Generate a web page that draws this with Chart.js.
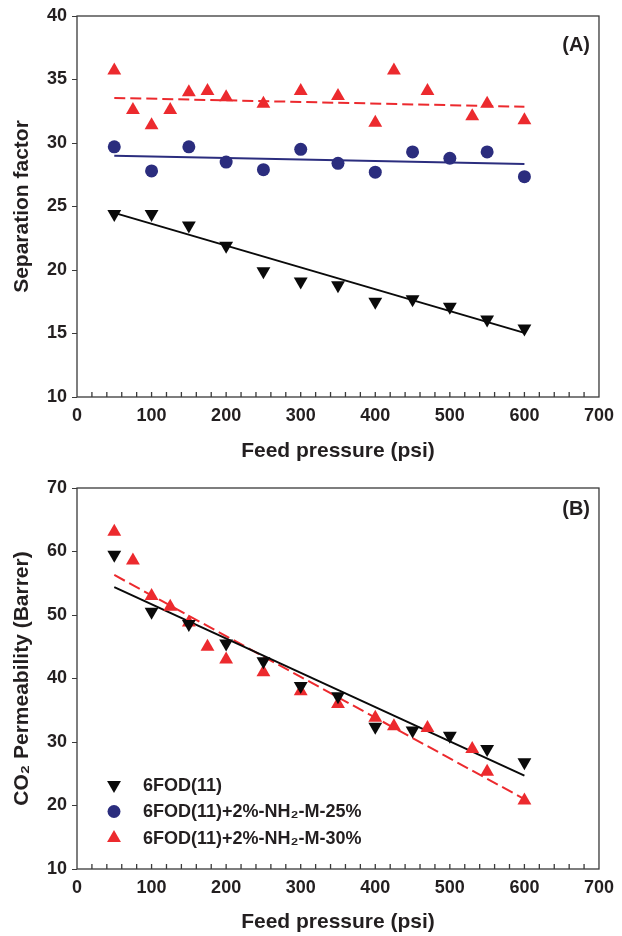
<!DOCTYPE html>
<html>
<head>
<meta charset="utf-8">
<script src="https://cdn.jsdelivr.net/npm/chart.js@4/dist/chart.umd.min.js"></script>
<style>
  html, body { margin: 0; padding: 0; background: #fff; }
  .box { width: 622px; height: 468px; }
</style>
</head>
<body>
<div class="box"><canvas id="chartA" width="622" height="468"></canvas></div>
<div class="box"><canvas id="chartB" width="622" height="468"></canvas></div>
<script>
// --- panel A: separation factor ---
const pressA = [50, 100, 150, 200, 250, 300, 350, 400, 450, 500, 550, 600];
const sepBase = [24.4, 24.4, 23.5, 21.9, 19.9, 19.1, 18.8, 17.5, 17.7, 17.1, 16.1, 15.4];
const sep25 = [29.7, 27.8, 29.7, 28.5, 27.9, 29.5, 28.4, 27.7, 29.3, 28.8, 29.3, 27.35];
const pressA30 = [50, 75, 100, 125, 150, 175, 200, 250, 300, 350, 400, 425, 470, 530, 550, 600];
const sep30 = [35.7, 32.6, 31.4, 32.6, 34.0, 34.1, 33.6, 33.1, 34.1, 33.7, 31.6, 35.7, 34.1, 32.1, 33.1, 31.8];

// --- panel B: CO2 permeability ---
const pressB = [50, 100, 150, 200, 250, 300, 350, 400, 450, 500, 550, 600];
const permBase = [59.5, 50.5, 48.6, 45.5, 42.7, 38.8, 37.2, 32.4, 31.8, 31.0, 28.9, 26.8];
const pressB30 = [50, 75, 100, 125, 150, 175, 200, 250, 300, 350, 400, 425, 470, 530, 550, 600];
const perm30 = [63.1, 58.6, 53.0, 51.3, 48.8, 45.0, 43.0, 41.0, 38.0, 36.0, 33.8, 32.5, 32.2, 28.9, 25.3, 20.8];

// linear fits, read at the ends (x = 50 and x = 600)
const fitX = [50, 600];
const fitA_base = [24.5, 15.05];
const fitA_25 = [29.0, 28.35];
const fitA_30 = [33.55, 32.85];
const fitB_base = [54.4, 24.7];
const fitB_30 = [56.3, 21.0];

const xTicks = [0, 100, 200, 300, 400, 500, 600, 700];

const RED = '#ec2a2e';
const BLUE = '#2b2d7e';
const BLACK = '#0a0a0a';
const TEXT = '#231f20';
const FONT = '"Liberation Sans", Arial, sans-serif';

const pts = (xs, ys) => xs.map((x, i) => ({ x: x, y: ys[i] }));

const seriesNames = ['6FOD(11)', '6FOD(11)+2%-NH\u2082-M-25%', '6FOD(11)+2%-NH\u2082-M-30%'];

function markerSet(label, xs, ys, color, style, rot, r) {
  return {
    label: label, data: pts(xs, ys), showLine: false,
    pointStyle: style, rotation: rot, pointRadius: r, pointHoverRadius: r,
    backgroundColor: color, borderColor: color, borderWidth: 0, order: 0
  };
}
function fitSet(ys, color, dash) {
  return {
    data: pts(fitX, ys), showLine: true, pointRadius: 0, borderColor: color,
    borderWidth: 2, borderDash: dash, fill: false, order: 1
  };
}

// frame + inward minor ticks + panel letter + legend
const decor = {
  id: 'decor',
  afterDatasetsDraw(chart, args, opts) {
    const ctx = chart.ctx, a = chart.chartArea, xs = chart.scales.x;
    ctx.save();
    ctx.strokeStyle = '#3a3a3a';
    ctx.lineWidth = 1.3;
    ctx.strokeRect(a.left, a.top, a.right - a.left, a.bottom - a.top);
    ctx.beginPath();
    for (let v = 20; v < 700; v += 20) {
      const px = xs.getPixelForValue(v);
      ctx.moveTo(px, a.bottom);
      ctx.lineTo(px, a.bottom - 5);
    }
    ctx.stroke();
    ctx.fillStyle = TEXT;
    ctx.font = 'bold 20px ' + FONT;
    ctx.textAlign = 'right';
    ctx.textBaseline = 'middle';
    ctx.fillText(opts.letter, a.right - 9, a.top + opts.letterDy);
    if (opts.legend) {
      const items = [
        { style: 'triangle', rot: 180, color: BLACK },
        { style: 'circle', rot: 0, color: BLUE },
        { style: 'triangle', rot: 0, color: RED }
      ];
      ctx.textAlign = 'left';
      ctx.font = 'bold 18px ' + FONT;
      items.forEach((it, i) => {
        const y = 317 + i * 26.5;
        ctx.fillStyle = it.color;
        ctx.strokeStyle = it.color;
        Chart.helpers.drawPoint(ctx, { pointStyle: it.style, rotation: it.rot, radius: it.style === 'circle' ? 6.5 : 8, borderWidth: 0 }, 114, y);
        ctx.fillStyle = TEXT;
        ctx.fillText(seriesNames[i], 143, y + 1);
      });
    }
    ctx.restore();
  }
};

function buildChart(id, datasets, yMin, yMax, yStep, yTitle, cfg) {
  return new Chart(document.getElementById(id).getContext('2d'), {
    type: 'scatter',
    data: { datasets: datasets },
    options: {
      responsive: false,
      animation: false,
      events: [],
      layout: { padding: { left: 0, right: 20, top: cfg.padTop, bottom: 0 } },
      plugins: {
        legend: { display: false },
        tooltip: { enabled: false },
        decor: { letter: cfg.letter, letterDy: cfg.letterDy, legend: cfg.legend }
      },
      scales: {
        x: {
          type: 'linear', min: 0, max: 700,
          afterBuildTicks: (s) => { s.ticks = xTicks.map(v => ({ value: v })); },
          afterFit: (s) => { s.height = cfg.xHeight; },
          grid: { display: false, drawTicks: false },
          border: { display: false },
          ticks: { padding: 8, color: TEXT, font: { family: FONT, size: 18, weight: 'bold' }, maxRotation: 0 },
          title: { display: true, text: 'Feed pressure (psi)', color: TEXT, font: { family: FONT, size: 21, weight: 'bold' }, padding: { top: 0, bottom: cfg.titlePad } }
        },
        y: {
          type: 'linear', min: yMin, max: yMax,
          ticks: { stepSize: yStep, padding: 5, color: TEXT, font: { family: FONT, size: 18, weight: 'bold' } },
          afterFit: (s) => { s.width = 77; },
          grid: { drawOnChartArea: false, drawTicks: true, tickLength: 5, color: '#3a3a3a' },
          border: { display: false },
          title: { display: true, text: yTitle, color: TEXT, font: { family: FONT, size: 21, weight: 'bold' }, padding: { top: 10, bottom: 0 } }
        }
      }
    },
    plugins: [decor]
  });
}

buildChart('chartA', [
  markerSet(seriesNames[0], pressA, sepBase, BLACK, 'triangle', 180, 8),
  markerSet(seriesNames[1], pressA, sep25, BLUE, 'circle', 0, 6.5),
  markerSet(seriesNames[2], pressA30, sep30, RED, 'triangle', 0, 8),
  fitSet(fitA_base, BLACK, []),
  fitSet(fitA_25, BLUE, []),
  fitSet(fitA_30, RED, [11, 5])
], 10, 40, 5, 'Separation factor',
  { padTop: 16, xHeight: 71, titlePad: 4, letter: '(A)', letterDy: 29, legend: false });

buildChart('chartB', [
  markerSet(seriesNames[0], pressB, permBase, BLACK, 'triangle', 180, 8),
  markerSet(seriesNames[2], pressB30, perm30, RED, 'triangle', 0, 8),
  fitSet(fitB_base, BLACK, []),
  fitSet(fitB_30, RED, [12, 5])
], 10, 70, 10, 'CO\u2082 Permeability (Barrer)',
  { padTop: 20, xHeight: 67, titlePad: 1, letter: '(B)', letterDy: 21, legend: true });
</script>
</body>
</html>
